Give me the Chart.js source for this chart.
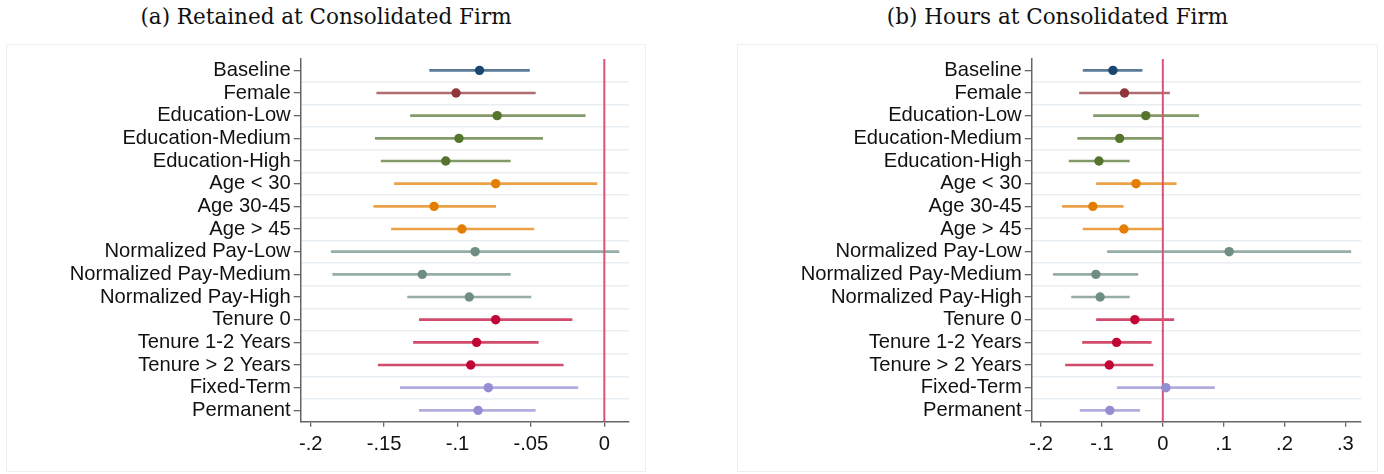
<!DOCTYPE html>
<html>
<head>
<meta charset="utf-8">
<script src="https://cdn.jsdelivr.net/npm/chart.js@4/dist/chart.umd.min.js"></script>
<style>
html,body{margin:0;padding:0;background:#fff;width:1384px;height:474px;overflow:hidden;position:relative;}
.title{position:absolute;top:4px;font-family:"DejaVu Serif",serif;font-size:21.5px;color:#111;text-align:center;white-space:nowrap;}
.box{position:absolute;top:44px;height:428px;border:1px solid #eeeeee;box-sizing:border-box;}
canvas{position:absolute;top:44px;}
</style>
</head>
<body>
<div class="title" id="ta" style="left:6px;width:640px">(a) Retained at Consolidated Firm</div>
<div class="title" id="tb" style="left:737px;width:641px">(b) Hours at Consolidated Firm</div>
<div class="box" style="left:6px;width:640px"></div>
<div class="box" style="left:737px;width:641px"></div>
<canvas id="ca" width="640" height="428" style="left:6px"></canvas>
<canvas id="cb" width="641" height="428" style="left:737px"></canvas>
<script>
// ---- data ----
const categories = ["Baseline","Female","Education-Low","Education-Medium","Education-High",
  "Age < 30","Age 30-45","Age > 45","Normalized Pay-Low","Normalized Pay-Medium",
  "Normalized Pay-High","Tenure 0","Tenure 1-2 Years","Tenure > 2 Years","Fixed-Term","Permanent"];

const groupColors = ["#1a476f","#90353b","#55752f","#55752f","#55752f",
  "#e37e00","#e37e00","#e37e00","#6e8e84","#6e8e84","#6e8e84",
  "#c10534","#c10534","#c10534","#938dd2","#938dd2"];

// Panel (a): Retained at Consolidated Firm
const retainedEst = [-0.085,-0.101,-0.073,-0.099,-0.108,-0.074,-0.116,-0.097,-0.088,-0.124,-0.092,-0.074,-0.087,-0.091,-0.079,-0.086];
const retainedLo  = [-0.119,-0.155,-0.132,-0.156,-0.152,-0.143,-0.157,-0.145,-0.186,-0.185,-0.134,-0.126,-0.130,-0.154,-0.139,-0.126];
const retainedHi  = [-0.051,-0.047,-0.013,-0.042,-0.064,-0.005,-0.074,-0.048, 0.010,-0.064,-0.050,-0.022,-0.045,-0.028,-0.018,-0.047];
const retainedTicks = [-0.2,-0.15,-0.1,-0.05,0];
const retainedTickLabels = ["-.2","-.15","-.1","-.05","0"];

// Panel (b): Hours at Consolidated Firm
const hoursEst = [-0.082,-0.063,-0.028,-0.071,-0.105,-0.044,-0.115,-0.064, 0.109,-0.110,-0.103,-0.046,-0.076,-0.088, 0.005,-0.087];
const hoursLo  = [-0.131,-0.137,-0.114,-0.140,-0.154,-0.109,-0.165,-0.131,-0.091,-0.180,-0.150,-0.109,-0.132,-0.160,-0.075,-0.136];
const hoursHi  = [-0.034, 0.011, 0.059, 0.000,-0.055, 0.022,-0.065, 0.001, 0.309,-0.041,-0.055, 0.018,-0.019,-0.016, 0.085,-0.038];
const hoursTicks = [-0.2,-0.1,0,0.1,0.2,0.3];
const hoursTickLabels = ["-.2","-.1","0",".1",".2",".3"];

// ---- helpers ----
function withAlpha(hex, a){
  const r=parseInt(hex.slice(1,3),16), g=parseInt(hex.slice(3,5),16), b=parseInt(hex.slice(5,7),16);
  return `rgba(${r},${g},${b},${a})`;
}
const labelFont = {family:"'Liberation Sans', Arial, sans-serif", size:20.2};
const axisColor = '#666666';

function noPad(s){ s.paddingTop = 0; s.paddingBottom = 0; }

function makeChart(id, est, lo, hi, xmin, xmax, ticks, tickLabels){
  const n = categories.length;
  return new Chart(document.getElementById(id), {
    type: 'scatter',
    data: {
      datasets: [
        {
          type:'scatter',
          data: est.map((v,i)=>({x:v, y:i})),
          pointRadius: 4.7,
          pointBorderWidth: 0,
          pointBackgroundColor: groupColors,
          pointBorderColor: groupColors
        },
        {
          type:'line',
          data:[{x:0,y:-0.5},{x:0,y:n-0.5}],
          borderColor:'#dc5276',
          borderWidth:2,
          pointRadius:0,
          fill:false
        },
        {
          type:'bar',
          indexAxis:'y',
          data: lo.map((v,i)=>({x:[v, hi[i]], y:i})),
          backgroundColor: groupColors.map(c=>withAlpha(c,0.72)),
          borderWidth:0,
          barThickness:2
        }
      ]
    },
    options: {
      responsive:false,
      animation:false,
      devicePixelRatio:1,
      layout:{padding:{top:15,right:17,left:0,bottom:0}},
      plugins:{legend:{display:false},tooltip:{enabled:false},title:{display:false}},
      scales:{
        x:{
          type:'linear', min:xmin, max:xmax, offset:false, beginAtZero:false,
          afterBuildTicks:(s)=>{ s.ticks = ticks.map(v=>({value:v})); },
          afterFit:(s)=>{ s.height = 50.3; s.paddingLeft = 0; s.paddingRight = 0; },
          ticks:{ font:labelFont, color:'#111', padding:6, autoSkip:false, maxRotation:0,
                  callback:(v,i)=>tickLabels[i] },
          grid:{ offset:false, drawOnChartArea:false, tickLength:5, color:axisColor, lineWidth:1.3 },
          border:{ color:axisColor, width:1.5 }
        },
        y:{
          type:'linear', reverse:true, min:-0.5, max:n-0.5, position:'left', offset:false,
          afterBuildTicks:(s)=>{ s.ticks = categories.map((c,i)=>({value:i})); },
          afterFit:(s)=>{ s.width = 294.7; noPad(s); },
          ticks:{ font:labelFont, color:'#111', padding:3, autoSkip:false,
                  callback:(v)=>categories[v] },
          grid:{ offset:false, drawOnChartArea:false, tickLength:7, color:axisColor, lineWidth:1.3 },
          border:{ color:axisColor, width:1.5 }
        },
        y2:{
          type:'linear', reverse:true, min:-0.5, max:n-0.5, position:'left', offset:false,
          afterBuildTicks:(s)=>{ s.ticks = categories.slice(1).map((c,i)=>({value:i+0.5})); },
          afterFit:(s)=>{ s.width = 0; noPad(s); },
          ticks:{ display:false },
          grid:{ offset:false, drawTicks:false, color:'#e8eef2', lineWidth:1.6 },
          border:{ display:false }
        }
      }
    }
  });
}

makeChart('ca', retainedEst, retainedLo, retainedHi, -0.2068, 0.0168, retainedTicks, retainedTickLabels);
makeChart('cb', hoursEst, hoursLo, hoursHi, -0.2155, 0.3257, hoursTicks, hoursTickLabels);
</script>
</body>
</html>
